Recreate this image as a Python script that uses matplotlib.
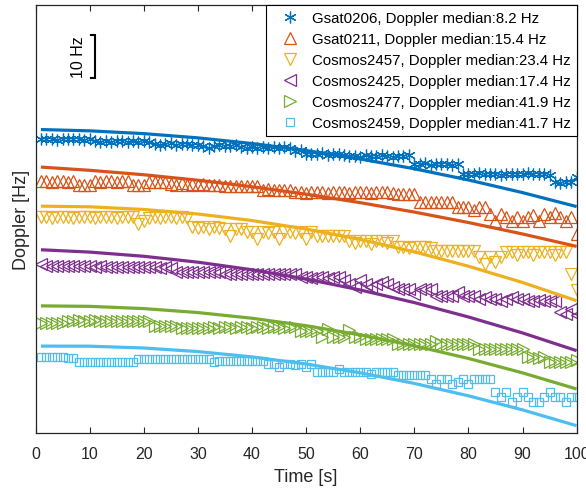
import numpy as np
import matplotlib
matplotlib.use("Agg")
import matplotlib.pyplot as plt

plt.rcParams['font.family'] = ['Liberation Sans', 'DejaVu Sans']

# measurement times [s]
t = np.arange(1, 101)

# measured Doppler (offset per satellite) [Hz]
gsat0206 = [68.8, 68.6, 68.7, 68.5, 68.8, 68.7, 68.6, 68.8, 68.5, 68.7,
            68.3, 68.1, 68.2, 68.0, 68.3, 68.2, 68.1, 68.3, 68.0, 68.2, 68.1,
            67.6, 67.4, 67.5, 67.7, 67.3, 67.5, 67.6, 67.4,
            67.2, 67.0, 66.6, 67.1, 67.2, 67.0, 67.1, 67.2,
            66.8, 66.7, 66.9, 66.6, 66.8, 66.7, 66.9, 66.6, 66.8, 66.7,
            65.9, 66.1,
            65.3, 65.1, 65.2, 65.4, 65.0, 65.2, 65.1,
            64.9, 64.7, 64.8, 64.6, 64.9, 64.8, 64.7, 64.9, 64.8, 64.6, 64.8, 64.7, 64.9,
            62.9, 62.8, 63.0, 62.7, 62.9, 62.8, 62.9, 62.7, 62.9,
            60.6, 60.4, 60.5, 60.7, 60.4, 60.5, 60.6, 60.3, 60.5, 60.6, 60.4, 60.5,
            60.7, 60.4, 60.6, 60.5, 60.3,
            58.6, 58.5, 58.7, 58.6, 59.9]
gsat0211 = [58.8, 58.8, 58.7, 58.8, 58.8, 58.7, 58.8,
            57.9, 57.9, 58.0,
            58.8, 58.7, 58.8, 58.8, 58.7, 58.8, 58.8,
            57.9, 57.9, 57.9,
            58.6, 58.7, 58.6, 58.6,
            58.2, 57.9, 58.3, 57.9, 58.2, 57.9, 58.1, 57.9, 58.0, 57.9,
            57.7, 57.7, 57.8, 57.7, 57.7, 57.8, 57.7,
            56.8, 56.9, 56.8, 56.7, 56.8, 56.8,
            56.2, 56.2, 56.1, 56.2, 56.2, 56.2, 56.1, 56.2, 56.2, 56.2,
            56.1, 56.2, 56.2, 56.2, 56.1, 56.2, 56.2, 56.2, 56.1,
            55.8, 55.9, 55.8, 55.8,
            54.0, 53.9, 54.0, 54.0, 53.9, 54.0, 54.0,
            52.8, 52.7, 52.8, 52.0, 52.8, 52.7,
            51.2, 49.5, 51.2, 50.4, 49.5,
            50.5, 49.6, 50.5, 51.0, 49.5,
            51.2, 50.5, 51.5, 50.5,
            49.6, 50.4, 46.5]
cosmos2457 = [50.4, 50.4, 50.3, 50.4, 50.4, 50.4, 50.3, 50.4, 50.4, 50.4,
              50.3, 50.4, 50.4, 50.4, 50.3, 50.4, 50.4, 50.4,
              48.9, 49.6,
              50.3, 50.4, 50.3, 50.4, 50.4, 50.3, 50.4, 50.3,
              48.1, 48.0, 48.1, 47.6, 48.1, 48.0,
              47.7, 46.1, 47.6, 47.7,
              46.9, 46.9, 45.4, 46.9, 46.8, 46.9, 45.3, 46.9, 46.9, 46.8, 46.9, 45.4, 46.9,
              46.1, 46.1, 46.0, 46.1, 46.1, 46.0,
              44.9, 44.3, 44.9, 44.9, 44.2, 44.9, 44.9, 44.3, 44.9,
              43.4, 43.4, 43.3, 43.4, 43.4, 43.4, 43.3,
              42.6, 42.6, 42.5, 42.6, 42.6, 42.5, 42.6, 42.6,
              41.1, 39.5, 41.1, 40.0, 41.2,
              42.3, 42.3, 41.5, 42.3, 42.3, 41.5, 42.3, 42.2, 42.3, 41.5, 42.3, 42.3,
              37.2, 33.3]
cosmos2425 = [39.5,
              39.1, 39.1, 39.0, 39.1, 39.1, 39.0, 39.1, 39.0, 39.0, 38.9, 39.0, 38.9,
              38.9, 38.9, 38.8, 38.9, 38.8, 38.8, 38.7, 38.8, 38.7, 38.6, 38.7, 38.6,
              37.6, 37.5, 37.6, 37.5, 37.6, 37.5, 37.5, 37.6, 37.5,
              37.2, 37.1, 37.2, 37.1, 37.2, 37.1, 37.2, 37.1, 37.2, 37.1, 37.2, 37.1, 37.2, 37.1,
              36.4, 36.4, 36.3, 36.4, 36.4, 36.3, 36.4, 36.4,
              35.8, 34.8, 34.1, 35.8, 34.8, 34.1, 34.8, 35.2, 34.8, 34.1,
              33.6, 33.7, 33.6, 32.5, 33.6, 33.6, 33.7,
              32.1, 32.1, 32.0, 32.1, 32.9, 32.1, 32.0, 32.1,
              31.3, 31.8, 31.3, 31.3, 30.9, 31.3, 31.8, 31.3, 31.3,
              30.9, 30.9, 31.0, 30.9, 30.9, 30.9,
              28.2, 27.8, 28.9, 27.5]
cosmos2477 = [25.6, 25.6, 25.7, 25.6, 25.6, 26.1,
              26.2, 26.5, 26.2, 26.2, 26.4, 26.2, 26.2, 26.2, 26.1, 26.2, 26.2, 26.1, 26.2, 26.2, 26.1,
              25.1, 25.0, 25.1, 25.1, 25.0,
              24.6, 24.5, 24.6, 24.6, 24.5, 24.6, 24.7, 24.6, 24.7, 24.7, 24.6,
              24.7, 24.7, 24.6, 24.7, 24.7, 24.6, 24.7, 24.7, 24.6, 24.7, 24.7,
              23.9, 23.9, 23.8, 23.9,
              22.4, 24.4, 22.4, 22.4, 22.5, 24.0, 22.4, 22.4,
              22.0, 21.9, 22.0, 22.0, 21.9, 22.0,
              20.8, 20.8, 20.7, 20.8, 20.8, 20.7, 20.8, 21.5, 20.8, 20.7, 20.8, 20.8, 20.7, 20.8, 20.8,
              19.6, 19.6, 19.7, 19.6, 19.6, 19.7, 19.6, 19.6, 19.7,
              17.7, 17.7, 17.6, 17.7, 16.6, 16.5, 16.6, 16.5, 16.6, 17.0]
cosmos2459 = [17.8, 17.8, 17.8, 17.8, 17.8,
              17.5, 17.5,
              16.7, 16.6, 16.7, 16.7, 16.6, 16.7, 16.7, 16.6, 16.7, 16.7, 16.6,
              17.3, 17.3, 17.3, 17.3, 17.3, 17.3, 17.3, 17.3, 17.3, 17.3, 17.3, 17.3, 17.3, 17.3,
              16.7,
              16.9, 16.9, 16.8, 16.9, 16.9, 16.9, 16.8, 16.9, 16.9,
              16.1, 16.1, 15.4, 16.1, 16.1, 16.0, 16.1, 15.4, 16.1,
              14.3, 14.3, 14.2, 14.3, 14.9, 14.3, 14.3, 14.2, 14.3, 14.3, 13.8, 14.3, 14.3, 14.2, 14.3,
              13.6, 13.6, 13.5, 13.6, 13.6, 13.5,
              12.6, 11.5, 12.6, 12.6, 11.5, 12.0, 12.6, 11.5,
              12.6, 12.6, 12.7, 12.6,
              9.6, 8.4, 9.6, 7.3, 8.4, 9.6, 8.4, 7.3, 7.2, 8.4, 9.6, 8.4, 8.4, 7.3, 8.4, 8.4]

# fitted Doppler curves, read at these times
fit_t = [1, 10, 20, 30, 40, 50, 60, 70, 80, 90, 100]
fit_gsat0206 = [70.9, 70.6, 69.95, 68.96, 67.64, 66.0, 64.03, 61.74, 59.12, 56.17, 52.9]
fit_gsat0211 = [62.13, 61.38, 60.34, 59.06, 57.54, 55.8, 53.82, 51.62, 49.18, 46.5, 43.6]
fit_cosmos2457 = [53.0, 52.85, 52.23, 51.17, 49.64, 47.66, 45.22, 42.33, 38.97, 35.17, 30.9]
fit_cosmos2425 = [42.81, 42.27, 41.29, 39.91, 38.14, 35.98, 33.42, 30.47, 27.11, 23.38, 19.23]
fit_cosmos2477 = [29.7, 29.59, 29.07, 28.14, 26.81, 25.07, 22.93, 20.37, 17.42, 14.05, 10.28]
fit_cosmos2459 = [20.3, 20.28, 19.86, 19.02, 17.78, 16.12, 14.06, 11.58, 8.69, 5.4, 1.7]

labels = ["Gsat0206, Doppler median:8.2 Hz",
          "Gsat0211, Doppler median:15.4 Hz",
          "Cosmos2457, Doppler median:23.4 Hz",
          "Cosmos2425, Doppler median:17.4 Hz",
          "Cosmos2477, Doppler median:41.9 Hz",
          "Cosmos2459, Doppler median:41.7 Hz"]

measured = [gsat0206, gsat0211, cosmos2457, cosmos2425, cosmos2477, cosmos2459]
fitted = [fit_gsat0206, fit_gsat0211, fit_cosmos2457, fit_cosmos2425, fit_cosmos2477, fit_cosmos2459]
colors = ["#0072BD", "#D95319", "#EDB120", "#7E2F8E", "#77AC30", "#4DBEEE"]
markers = [(6, 2, 0), "^", "v", "<", ">", "s"]
msizes = [8.5, 8, 8, 8, 8, 6]

fig = plt.figure(figsize=(5.86, 4.89), dpi=100)
ax = fig.add_axes([0.0606, 0.1125, 0.9234, 0.8752])

for y, yf, c, m, ms, lab in zip(measured, fitted, colors, markers, msizes, labels):
    ax.plot(t, y, linestyle="none", marker=m, markersize=ms, markerfacecolor="none",
            markeredgecolor=c, markeredgewidth=0.9, color=c, label=lab, zorder=2)
    ax.plot(fit_t, yf, color=c, linewidth=2.3, solid_capstyle="butt", zorder=3)

ax.set_xlim(0, 100)
ax.set_ylim(0, 100)
ax.set_xticks(range(0, 101, 10))
ax.set_yticks([])
ax.tick_params(axis="x", direction="in", length=4, width=0.8, top=True,
               labelsize=11.5, colors="#262626", pad=9.5)
for sp in ax.spines.values():
    sp.set_linewidth(0.9)
    sp.set_color("#262626")

ax.set_xlabel("Time [s]", fontsize=13, color="#262626", labelpad=5)
ax.set_ylabel("Doppler [Hz]", fontsize=13, color="#262626", labelpad=4)

# 10 Hz scale bar
ax.plot([10.2, 11.0, 11.0, 10.2], [93, 93, 83, 83], color="black", linewidth=1.5,
        solid_joinstyle="miter", zorder=4)
ax.text(7.9, 88, "10 Hz", rotation=90, ha="center", va="center", fontsize=11.5)

leg = ax.legend(loc="upper right", bbox_to_anchor=(1.0, 1.0), fontsize=10.8,
                frameon=True, fancybox=False, framealpha=1, edgecolor="black",
                handlelength=2.4, handletextpad=0.25, borderpad=0.4,
                labelspacing=0.47, borderaxespad=0)
leg.get_frame().set_linewidth(0.8)

fig.savefig("out.png", dpi=100)
